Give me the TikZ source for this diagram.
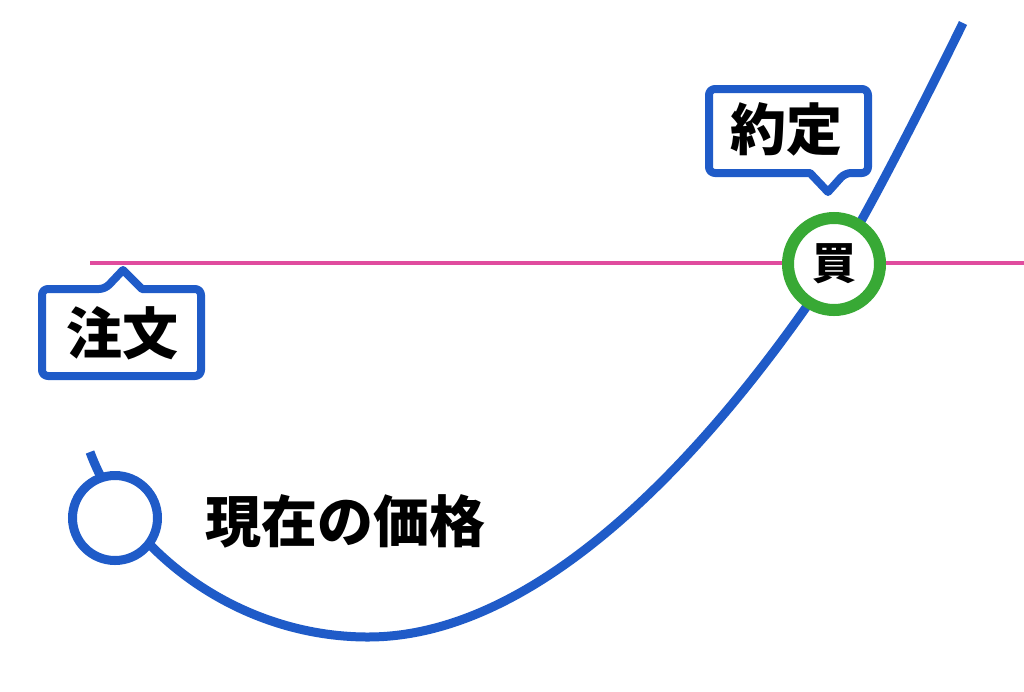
\documentclass[tikz,border=0pt]{standalone}
\usepackage{fontspec}
\newfontfamily\cjk{Noto Sans CJK JP}
\definecolor{cblue}{HTML}{1F5BC8}
\definecolor{cgreen}{HTML}{38A935}
\definecolor{cpink}{HTML}{E04C9E}
\begin{document}
\begin{tikzpicture}[x=1pt,y=-1pt,
  lbl/.style={font=\cjk\bfseries\fontsize{56}{60}\selectfont, inner sep=0pt, text=black},
  callout/.style={draw=cblue, line width=8pt, fill=white, line join=round},
  curve/.style={draw=cblue, line width=9pt}]
\useasboundingbox (0,0) rectangle (1024,691);
\fill[white] (0,0) rectangle (1024,691);
% horizontal order line
\coordinate (pl) at (90,263);
\coordinate (pr) at (1024,263);
\draw[cpink, line width=3.5pt] (pl) -- (pr);
% price curve
\coordinate (c0) at (90,452);
\coordinate (cb) at (368,637);
\coordinate (cx) at (835,265);
\coordinate (ce) at (963,23);
\path[curve] (c0) .. controls (128,554) and (240,637) .. (cb)
  .. controls (550,637) and (725,431) .. (cx)
  .. controls (868,215) and (941,68) .. (ce);
% markers
\node[circle, draw=cblue, line width=9pt, fill=white, minimum size=85pt, inner sep=0pt] (now) at (115,518) {};
\node[circle, draw=cgreen, line width=12pt, fill=white, minimum size=92pt, inner sep=0pt,
  font=\cjk\bfseries\fontsize{44}{46}\selectfont] (buy) at (834,264) {買};
% current price label
\node[lbl] (price) at (345,521) {現在の価格};
% callout: order
\draw[callout] (42,332) [rounded corners=6] -- (42,289) -- (105,289) [sharp corners] -- (123,270) -- (142,289) [rounded corners=6] -- (201,289) -- (201,376) -- (42,376) -- cycle;
\node[lbl] (order) at (122,333) {注文};
% callout: execution
\draw[callout] (709,131) [rounded corners=6] -- (709,89) -- (868,89) -- (868,173) -- (845,173) [sharp corners] -- (828,192) -- (810,173) [rounded corners=6] -- (709,173) -- cycle;
\node[lbl] (exec) at (786,129) {約定};
\end{tikzpicture}
\end{document}
